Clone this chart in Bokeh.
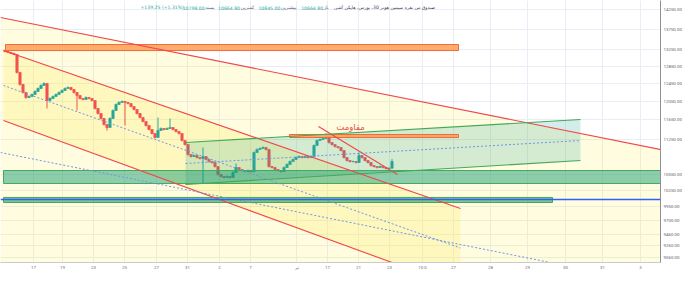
from bokeh.plotting import figure
from bokeh.models import Range1d, FixedTicker, Label, NumeralTickFormatter, Span
from bokeh.embed import file_html
from bokeh.resources import INLINE

# ---------------- candle data (Heikin Ashi, one bar per session slot) ----------------
first_open = 13222.0
closes = [13198, 13175, 13151, 13127, 12703, 12428, 12247, 12136, 12158, 12202,
          12270, 12337, 12405, 12451, 12070, 12114, 12158, 12202, 12247, 12292,
          12337, 12360, 12315, 12247, 12180, 12114, 12092, 12136, 12114, 12070,
          11895, 11787, 11680, 11552, 11489, 11680, 11851, 11982, 12026, 12048,
          12026, 12004, 11938, 11873, 11787, 11701, 11616, 11531, 11448, 11365,
          11282, 11427, 11468, 11448, 11468, 11489, 11448, 11406, 11365, 11220,
          11138, 10937, 10897, 10917, 10877, 10858, 10897, 10838, 10798, 10779,
          10700, 10545, 10507, 10488, 10507, 10488, 10584, 10681, 10642, 10622,
          10603, 10622, 10603, 10977, 11038, 11058, 11078, 11038, 10700, 10681,
          10642, 10622, 10603, 10681, 10740, 10798, 10838, 10877, 10897, 10877,
          10897, 10877, 10897, 11118, 11220, 11241, 11261, 11303, 11179, 11138,
          11098, 11078, 11017, 10877, 10818, 10798, 10798, 10779, 10917, 10877,
          10818, 10779, 10720, 10700, 10681, 10700, 10681, 10661, 10664.8, 10798]
highs = [13240, 13215, 13190, 13170, 13140, 12715, 12440, 12260, 12180, 12225,
         12295, 12360, 12430, 12475, 12460, 12140, 12180, 12225, 12270, 12315,
         12360, 12385, 12370, 12325, 12255, 12190, 12125, 12160, 12145, 12125,
         12080, 11905, 11795, 11690, 11560, 11705, 11875, 12005, 12050, 12070,
         12058, 12035, 12012, 11945, 11880, 11795, 11710, 11625, 11540, 11455,
         11372, 11701, 11490, 11478, 11490, 11680, 11498, 11455, 11412, 11372,
         11228, 11145, 10945, 10938, 10925, 10885, 11078, 10905, 10845, 10805,
         10786, 10707, 10552, 10514, 10527, 10514, 10605, 10759, 10688, 10648,
         10628, 10642, 10628, 10997, 11058, 11078, 11098, 11085, 11045, 10707,
         10688, 10648, 10628, 10700, 10760, 10818, 10858, 10897, 10917, 10904,
         10917, 10904, 10917, 11138, 11241, 11261, 11282, 11365, 11310, 11186,
         11145, 11105, 11085, 11024, 10884, 10825, 10815, 10805, 10977, 10924,
         10884, 10825, 10786, 10727, 10707, 10720, 10707, 10688, 10684, 10845]
lows = [13180, 13160, 13135, 13110, 12680, 12400, 12225, 12110, 12120, 12150,
        12195, 12262, 12330, 12398, 11895, 12060, 12105, 12150, 12195, 12240,
        12285, 12330, 12295, 12225, 11851, 12095, 12075, 12085, 12095, 12050,
        11875, 11765, 11660, 11530, 11427, 11480, 11672, 11845, 11975, 12020,
        11531, 11985, 11920, 11855, 11768, 11682, 11598, 11512, 11430, 11345,
        11262, 11275, 11420, 11430, 11440, 11460, 11430, 11388, 11345, 11200,
        11118, 10917, 10878, 10890, 10858, 10840, 10374, 10820, 10779, 10760,
        10681, 10526, 10488, 10470, 10480, 10470, 10481, 10577, 10622, 10603,
        10584, 10596, 10584, 10597, 10970, 11030, 11050, 11018, 10681, 10662,
        10622, 10603, 10584, 10597, 10675, 10733, 10791, 10830, 10870, 10858,
        10870, 10858, 10870, 10890, 11110, 11213, 11233, 11254, 11159, 11118,
        11078, 11058, 10997, 10858, 10798, 10779, 10781, 10760, 10772, 10858,
        10798, 10760, 10700, 10681, 10662, 10675, 10662, 10642, 10645, 10664.8]

# ---------------- axes ----------------
price_ticks = [14250, 13750, 13250, 12850, 12450, 12050, 11650, 11250,
               10550, 10250, 9950, 9700, 9460, 9260, 9060]
time_tick_bars = [9.5, 19.17, 29.5, 39.83, 50.5, 60.83, 71.5, 81.83, 97.17, 107.5,
                  117.83, 128.17, 139.17, 149.5, 161.83, 174.17, 186.83, 199.17, 211.83]
time_tick_labels = ["17", "19", "23", "25", "27", "31", "2", "7", "تیر", "17",
                    "21", "23", "10.0", "27", "28", "29", "30", "31", "3"]

# ---------------- drawings: (bar, price) anchors ----------------
wide_top = [(-1.5, 14044), (228.5, 10917)]
wide_mid = [(-1.5, 10977), (228.5, 8533)]
down_top = [(-0.5, 13222), (151.83, 9911)]
down_bot = [(-0.5, 11637), (151.83, 8580)]
down_mid = [(-0.5, 12405), (151.83, 9221)]
up_top = [(60.17, 11179), (191.83, 11658)]
up_bot = [(60.17, 10356), (191.83, 10818)]
up_mid = [(60.17, 10759), (191.83, 11220)]
short_trend = [(104.5, 11510), (130.83, 10545)]
zone_band = (-0.5, 230.0, 10622, 10374)        # left, right, top, bottom
support_band = (-0.5, 182.5, 10113, 10020)
top_box = (0.17, 151.17, 13368, 13222)
resist_box = (94.83, 151.17, 11344, 11282)
resist_text = (115.17, 11500, "مقاومت")
support_level = 10073.0
last_close = 10798.0

# legend line, pieces in left-to-right order
header_pieces = [("+139.25 (+1.31%)", "#26a69a"),
                 ("10798.00", "#26a69a"), ("بسته", "#5d606b"),
                 ("10664.80", "#26a69a"), ("کمترین", "#5d606b"),
                 ("10845.00", "#26a69a"), ("بیشترین", "#5d606b"),
                 ("10664.80", "#26a69a"), ("باز", "#5d606b"),
                 ("صندوق س نقره سیمین هونر 30، بورس، هایکن آشی", "#3f424c")]

UP, DOWN = "#26a69a", "#ef5350"
RED_LINE = "#f0474a"
GREEN_LINE = "#43a95a"
DOT_BLUE = "#6f95e8"

p = figure(width=690, height=286, x_range=Range1d(-1.5, 218.5),
           y_range=Range1d(8981, 14486), y_axis_type="log", y_axis_location="right",
           output_backend="svg", toolbar_location=None)
p.min_border_left = 0
p.min_border_top = 0
p.min_border_right = 30
p.min_border_bottom = 24
p.outline_line_color = None
p.background_fill_color = "white"
p.border_fill_color = "white"

# price axis
ya = p.yaxis[0]
ya.ticker = FixedTicker(ticks=price_ticks, minor_ticks=[])
ya.formatter = NumeralTickFormatter(format="0.00")
ya.major_label_text_font_size = "4.4px"
ya.major_label_text_color = "#5d606b"
ya.major_label_text_font = "Roboto"
ya.axis_line_color = "#8d9099"
ya.major_tick_line_color = None
ya.minor_tick_line_color = None
ya.major_tick_out = 0
ya.minor_tick_out = 0
ya.major_label_standoff = 3

# time axis
xa = p.xaxis[0]
xa.ticker = FixedTicker(ticks=time_tick_bars)
xa.major_label_overrides = dict(zip(time_tick_bars, time_tick_labels))
xa.major_label_text_font_size = "4.4px"
xa.major_label_text_color = "#6a6d78"
xa.major_label_text_font = "Roboto"
xa.axis_line_color = "#c9cbd1"
xa.major_tick_line_color = None
xa.minor_tick_line_color = None
xa.major_tick_out = 0
xa.minor_tick_out = 0
xa.major_label_standoff = 2

p.ygrid.ticker = FixedTicker(ticks=price_ticks)
p.xgrid.ticker = FixedTicker(ticks=time_tick_bars)
p.grid.grid_line_color = "#e9edf5"
p.grid.grid_line_width = 1

# ---------------- channel fills ----------------
p.patch([wide_top[0][0], wide_top[1][0], wide_top[1][0], wide_top[0][0]],
        [wide_top[0][1], wide_top[1][1], 8000, 8000],
        fill_color="#ffeb3b", fill_alpha=0.16, line_color=None)
p.patch([down_top[0][0], down_top[1][0], down_bot[1][0], down_bot[0][0]],
        [down_top[0][1], down_top[1][1], down_bot[1][1], down_bot[0][1]],
        fill_color="#ffeb3b", fill_alpha=0.2, line_color=None)

# ---------------- candles ----------------
opens = [first_open] + closes[:-1]
xs = list(range(len(closes)))
colors = [UP if c >= o else DOWN for o, c in zip(opens, closes)]
tops = [max(o, c) for o, c in zip(opens, closes)]
bots = [min(o, c) for o, c in zip(opens, closes)]
p.segment(xs, highs, xs, lows, line_color=colors, line_width=1)
p.vbar(x=xs, width=0.8, top=tops, bottom=bots, fill_color=colors, line_color=colors, line_width=0.6)

# ---------------- rising channel ----------------
p.patch([up_top[0][0], up_top[1][0], up_bot[1][0], up_bot[0][0]],
        [up_top[0][1], up_top[1][1], up_bot[1][1], up_bot[0][1]],
        fill_color="#26a69a", fill_alpha=0.2, line_color=None)

# horizontal zones
for (l, r, t, b), fc, fa in [(zone_band, "#0e9a73", 0.47), (support_band, "#2e9d5c", 0.6)]:
    p.quad(left=l, right=r, top=t, bottom=b, fill_color=fc, fill_alpha=fa,
           line_color=GREEN_LINE, line_width=1)
for (l, r, t, b) in [top_box, resist_box]:
    p.quad(left=l, right=r, top=t, bottom=b, fill_color="#ffa35c", fill_alpha=0.9,
           line_color="#f26a3d", line_width=1)

p.add_layout(Span(location=support_level, dimension="width", line_color="#2962ff", line_width=1.5))

def draw(seg, color, dash="solid", width=1.0, alpha=1.0):
    p.line([seg[0][0], seg[1][0]], [seg[0][1], seg[1][1]], line_color=color,
           line_width=width, line_dash=dash, line_alpha=alpha)

for seg in (wide_top, down_top, down_bot, short_trend):
    draw(seg, RED_LINE, width=1.1)
for seg in (up_top, up_bot):
    draw(seg, GREEN_LINE, width=1.1)
for seg in (wide_mid, down_mid, up_mid):
    draw(seg, DOT_BLUE, dash="2 2", width=1.0)

p.add_layout(Label(x=resist_text[0], y=resist_text[1], text=resist_text[2],
                   text_font="DejaVu Sans", text_font_size="8.5px", text_color="#e0524f",
                   text_align="center", text_baseline="middle"))

# ---------------- price tags on the scale ----------------
for val, bg in [(last_close, "#26a69a"), (support_level, "#2962ff")]:
    p.add_layout(Label(x=661, x_units="screen", y=val, text=f"{val:.2f}",
                       text_font="Roboto", text_font_size="4.4px", text_color="white",
                       text_baseline="middle", background_fill_color=bg,
                       padding=(2, 1)))

# ---------------- legend line and logo ----------------
hx = 140
for txt, col in header_pieces:
    lab = Label(x=hx, x_units="screen", y=255, y_units="screen", text=txt,
                text_font="DejaVu Sans", text_font_size="4.6px", text_color=col,
                text_baseline="middle")
    p.add_layout(lab)
    hx += len(txt) * 2.45 + 3
p.add_layout(Label(x=5, x_units="screen", y=-18, y_units="screen", text="TV",
                   text_font="Roboto", text_font_style="bold", text_font_size="6px",
                   text_color="#131722", text_baseline="middle"))
p.add_layout(Label(x=14, x_units="screen", y=-18, y_units="screen", text="TradingView",
                   text_font="Roboto", text_font_size="5.5px", text_color="#131722",
                   text_baseline="middle"))

open("out.html", "w").write(file_html(p, INLINE))
